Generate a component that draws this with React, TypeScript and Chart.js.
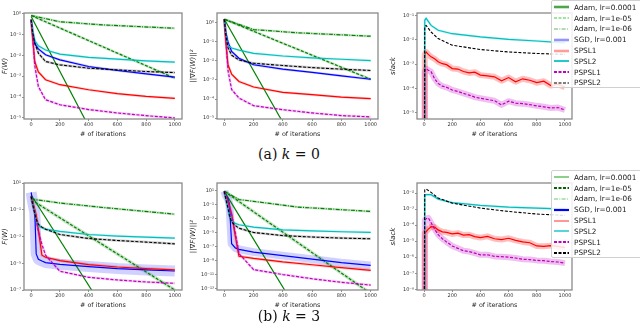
import React, { useEffect, useRef } from "react";
import { Chart, registerables } from "chart.js";
Chart.register(...registerables);

// ---------- tick values ----------
const ITER_TICKS = [0, 200, 400, 600, 800, 1000];
const K0_F_TICKS = [0, -1, -2, -3, -4, -5];
const K0_G_TICKS = [0, -1, -2, -3, -4, -5];
const K0_S_TICKS = [-1, -2, -3, -4, -5];
const K3_F_TICKS = [1, -1, -3, -5, -7];
const K3_G_TICKS = [1, -1, -3, -5, -7, -9, -11, -13];
const K3_S_TICKS = [-2, -3, -4, -5, -6, -7, -8];

// ---------- iteration grids ----------
const XS_K0 = [0, 10, 25, 50, 100, 200, 400, 600, 800, 1000];
const XS_K3 = [0, 10, 25, 35, 50, 75, 100, 200, 400, 600, 800, 1000];
const XS_SLACK = [0, 5, 15, 50, 100, 200, 400, 600, 800, 1000];
const XS_NOISY = [0, 5, 15, 30, 50, 75, 100, 130, 160, 200, 240, 280, 320, 360, 400, 450, 500, 550, 600, 650, 700, 750, 800, 850, 900, 950, 1000];
const XS_ADAM6 = [0, 200, 500, 1000];
const XS_ADAM_LIN = [0, 1000];

// ---------- k = 0 : F(W)  (log10 values) ----------
const K0_F_ADAM4_X = [0, 400];
const K0_F_ADAM4 = [-0.15, -5.4];
const K0_F_ADAM5 = [-0.1, -3.1];
const K0_F_ADAM6 = [-0.1, -0.4, -0.55, -0.71];
const K0_F_SGD = [-0.3, -0.9, -1.45, -1.7, -1.98, -2.22, -2.54, -2.73, -2.89, -3.05];
const K0_F_SPSL1 = [-0.3, -1.2, -2.3, -2.8, -3.17, -3.41, -3.65, -3.84, -3.97, -4.06];
const K0_F_SPSL2 = [-0.3, -0.8, -1.3, -1.55, -1.75, -1.95, -2.1, -2.19, -2.27, -2.33];
const K0_F_PSPSL1 = [-0.3, -1.0, -2.5, -3.5, -4.13, -4.37, -4.6, -4.76, -4.89, -5.0];
const K0_F_PSPSL2 = [-0.3, -0.9, -1.4, -1.9, -2.3, -2.46, -2.62, -2.7, -2.78, -2.83];

// ---------- k = 0 : ||grad F||^2 ----------
const K0_G_ADAM4_X = [0, 420];
const K0_G_ADAM4 = [0.19, -5.5];
const K0_G_ADAM5 = [0.19, -2.96];
const K0_G_ADAM6 = [0.19, -0.35, -0.52, -0.7];
const K0_G_SGD = [0.19, -0.5, -1.0, -1.5, -1.86, -2.2, -2.43, -2.6, -2.78, -2.96];
const K0_G_SPSL1 = [0.19, -1.0, -2.2, -2.7, -3.08, -3.37, -3.65, -3.77, -3.9, -3.98];
const K0_G_SPSL2 = [0.19, -0.6, -1.2, -1.32, -1.43, -1.6, -1.74, -1.84, -1.91, -1.98];
const K0_G_PSPSL1 = [0.19, -0.8, -2.5, -3.5, -3.95, -4.35, -4.56, -4.73, -4.87, -4.94];
const K0_G_PSPSL2 = [0.19, -0.6, -1.3, -1.7, -1.95, -2.12, -2.24, -2.35, -2.43, -2.5];

// ---------- k = 0 : slack ----------
const K0_S_SPSL2 = [-12, -1.2, -1.12, -1.41, -1.61, -1.75, -1.88, -1.98, -2.05, -2.13];
const K0_S_PSPSL2 = [-12, -1.45, -1.41, -1.68, -1.95, -2.22, -2.4, -2.5, -2.56, -2.6];
const K0_S_SPSL1 = [-12, -2.6, -2.5, -2.6, -2.7, -2.78, -2.9, -2.98, -3.02, -3.18, -3.2, -3.3, -3.36, -3.33, -3.45, -3.48, -3.52, -3.68, -3.55, -3.72, -3.6, -3.66, -3.76, -3.7, -3.88, -3.82, -3.95];
const K0_S_PSPSL1 = [-12, -3.3, -3.18, -3.25, -3.31, -3.6, -3.79, -3.9, -3.95, -4.06, -4.12, -4.2, -4.27, -4.35, -4.4, -4.45, -4.5, -4.67, -4.52, -4.6, -4.62, -4.66, -4.71, -4.75, -4.8, -4.78, -4.88];

// ---------- k = 3 : F(W) ----------
const K3_F_ADAM4_X = [0, 480];
const K3_F_ADAM4 = [0.1, -8.0];
const K3_F_ADAM5 = [-0.25, -7.0];
const K3_F_ADAM6 = [-0.2, -0.5, -0.83, -1.33];
const K3_F_SGD = [0.3, -0.4, -1.2, -4.3, -4.7, -4.83, -4.95, -5.08, -5.25, -5.4, -5.5, -5.58];
const K3_F_SPSL1 = [0.0, -0.4, -1.0, -1.4, -2.5, -4.4, -4.55, -4.8, -5.1, -5.28, -5.4, -5.5];
const K3_F_SPSL2 = [0.0, -0.5, -1.2, -1.8, -2.2, -2.35, -2.45, -2.62, -2.85, -2.97, -3.05, -3.12];
const K3_F_PSPSL1 = [0.0, -0.5, -1.2, -1.8, -2.6, -3.6, -4.4, -5.6, -6.05, -6.25, -6.4, -6.5];
const K3_F_PSPSL2 = [0.0, -0.6, -1.3, -1.7, -2.1, -2.3, -2.45, -2.85, -3.15, -3.3, -3.42, -3.55];

// ---------- k = 3 : ||grad F||^2 ----------
const K3_G_ADAM4_X = [0, 450];
const K3_G_ADAM4 = [0.86, -14.5];
const K3_G_ADAM5 = [0.86, -13.7];
const K3_G_ADAM6_X = [0, 100, 200, 500, 1000];
const K3_G_ADAM6 = [0.86, -0.3, -0.57, -1.38, -2.0];
const K3_G_SGD = [0.9, 0.3, -0.2, -1.0, -6.6, -7.2, -7.4, -7.8, -8.3, -8.8, -9.3, -9.7];
const K3_G_SPSL1 = [0.86, 0.2, -0.5, -1.2, -2.4, -5.5, -8.4, -8.7, -9.2, -9.6, -10.0, -10.4];
const K3_G_SPSL2 = [0.86, 0.0, -1.5, -2.5, -3.4, -3.7, -3.9, -4.24, -4.62, -4.76, -4.9, -5.0];
const K3_G_PSPSL1 = [0.86, 0.2, -0.6, -1.3, -2.5, -5.0, -8.0, -10.3, -11.0, -11.6, -12.1, -12.5];
const K3_G_PSPSL2 = [0.86, -0.2, -1.5, -2.6, -3.5, -4.0, -4.4, -5.0, -5.45, -5.65, -5.8, -5.9];

// ---------- k = 3 : slack ----------
const K3_S_PSPSL2 = [-12, -1.8, -1.75, -1.96, -2.31, -2.63, -2.94, -3.15, -3.31, -3.4];
const K3_S_SPSL2 = [-12, -2.12, -2.1, -2.1, -2.38, -2.6, -2.77, -2.88, -2.94, -3.0];
const K3_S_SPSL1 = [-12, -4.5, -4.4, -4.25, -4.1, -4.12, -4.3, -4.42, -4.45, -4.55, -4.5, -4.62, -4.6, -4.72, -4.78, -4.7, -4.85, -4.9, -4.82, -4.95, -5.05, -5.1, -5.3, -5.32, -5.28, -5.33, -5.4];
const K3_S_PSPSL1 = [-12, -3.7, -3.6, -3.55, -3.85, -4.25, -4.6, -4.85, -5.05, -5.3, -5.45, -5.6, -5.65, -5.75, -5.85, -5.85, -5.95, -5.97, -6.0, -6.05, -6.13, -6.15, -6.2, -6.22, -6.27, -6.3, -6.37];

// ---------- legend labels ----------
const SERIES_LABELS = ["Adam, lr=0.0001", "Adam, lr=1e-05", "Adam, lr=1e-06", "SGD, lr=0.001", "SPSL1", "SPSL2", "PSPSL1", "PSPSL2"];

// ---------- styles ----------
type Key = "adam4" | "adam5" | "adam6" | "sgd" | "spsl1" | "spsl2" | "pspsl1" | "pspsl2";
const DASH = [3, 1.6];
const DASHDOT = [4, 1.3, 1, 1.3];
const STYLE: Record<Key, { rgb: number[]; width: number; dash: number[] }> = {
  adam4: { rgb: [0, 128, 0], width: 1.2, dash: [] },
  adam5: { rgb: [0, 128, 0], width: 1.2, dash: DASH },
  adam6: { rgb: [0, 128, 0], width: 1.2, dash: DASHDOT },
  sgd: { rgb: [0, 0, 255], width: 1.2, dash: [] },
  spsl1: { rgb: [255, 0, 0], width: 1.2, dash: [] },
  spsl2: { rgb: [0, 191, 191], width: 1.2, dash: [] },
  pspsl1: { rgb: [191, 0, 191], width: 1.2, dash: DASH },
  pspsl2: { rgb: [0, 0, 0], width: 1.1, dash: DASH },
};
const rgba = (c: number[], a: number) => `rgba(${c[0]},${c[1]},${c[2]},${a})`;

const SUPS: Record<string, string> = { "0": "⁰", "1": "¹", "2": "²", "3": "³", "4": "⁴", "5": "⁵", "6": "⁶", "7": "⁷", "8": "⁸", "9": "⁹", "-": "⁻" };
const sup = (n: number) => String(n).split("").map((c) => SUPS[c] || c).join("");

const FONT = "'DejaVu Sans', sans-serif";
const PAD_TOP = 13;
const PAD_RIGHT = 6;
const X_AXIS_H = 21;

type S = { key: Key; xs: number[]; ys: number[]; halo?: number; haloA?: number };
type PanelDef = {
  id: string; L: number; T: number; R: number; B: number; canvasLeft: number;
  yMin: number; yMax: number; yTicks: number[]; yTitle: string; series: S[];
};

const framePlugin = {
  id: "frame",
  afterDraw(chart: any) {
    const { ctx, chartArea: a } = chart;
    ctx.save();
    ctx.strokeStyle = "#8a8a8a";
    ctx.lineWidth = 1.3;
    ctx.strokeRect(a.left, a.top, a.right - a.left, a.bottom - a.top);
    ctx.restore();
  },
};

function Panel(p: PanelDef) {
  const ref = useRef<HTMLCanvasElement>(null);
  const top = p.T - PAD_TOP;
  const width = p.R + PAD_RIGHT - p.canvasLeft;
  const height = p.B + X_AXIS_H - top;
  const yAxisW = p.L - p.canvasLeft;
  useEffect(() => {
    const datasets: any[] = [];
    p.series.forEach((s, i) => {
      const st = STYLE[s.key];
      const data = s.xs.map((x, j) => ({ x, y: Math.pow(10, s.ys[j]) }));
      datasets.push({
        data, borderColor: rgba(st.rgb, 1), borderWidth: st.width, borderDash: st.dash,
        order: 10 - i, pointRadius: 0, fill: false, tension: 0,
      });
      if (s.halo) {
        datasets.push({
          data, borderColor: rgba(st.rgb, s.haloA ?? 0.2), borderWidth: s.halo,
          order: 30, pointRadius: 0, fill: false, tension: 0, borderJoinStyle: "round",
        });
      }
    });
    const chart = new Chart(ref.current!, {
      type: "line",
      data: { datasets },
      options: {
        animation: false,
        responsive: false,
        maintainAspectRatio: false,
        layout: { padding: { top: PAD_TOP, right: PAD_RIGHT, left: 0, bottom: 0 } },
        plugins: { legend: { display: false }, tooltip: { enabled: false } },
        scales: {
          x: {
            type: "linear", min: -50, max: 1050,
            afterBuildTicks: (s: any) => { s.ticks = ITER_TICKS.map((v) => ({ value: v })); },
            afterFit: (s: any) => { s.height = X_AXIS_H; },
            ticks: {
              font: { size: 5, family: FONT }, color: "#333", padding: 1, maxRotation: 0, autoSkip: false,
              callback: (v: any) => String(v),
            },
            grid: { drawOnChartArea: false, drawTicks: true, tickLength: 2, color: "#444", lineWidth: 0.6 },
            border: { display: false },
            title: { display: true, text: "# of iterations", font: { size: 6.4, family: FONT }, color: "#222", padding: { top: 0, bottom: 2 } },
          },
          y: {
            type: "logarithmic", min: Math.pow(10, p.yMin), max: Math.pow(10, p.yMax),
            afterBuildTicks: (s: any) => { s.ticks = p.yTicks.map((e) => ({ value: Math.pow(10, e) })); },
            afterFit: (s: any) => { s.width = yAxisW; },
            ticks: {
              font: { size: 5, family: FONT }, color: "#333", padding: 1, autoSkip: false,
              callback: (v: any) => "10" + sup(Math.round(Math.log10(Number(v)))),
            },
            grid: { drawOnChartArea: false, drawTicks: true, tickLength: 2, color: "#444", lineWidth: 0.6 },
            border: { display: false },
            title: { display: true, text: p.yTitle, font: { size: 7, family: FONT, style: "italic" }, color: "#222", padding: { top: 1, bottom: 0 } },
          },
        },
      } as any,
      plugins: [framePlugin],
    });
    return () => chart.destroy();
  }, []);
  return (
    <canvas ref={ref} width={width} height={height}
      style={{ position: "absolute", left: p.canvasLeft, top, width, height }} />
  );
}

const COLS = [
  { L: 24, R: 182, canvasLeft: 0 },
  { L: 217, R: 378, canvasLeft: 188 },
  { L: 417, R: 572, canvasLeft: 388 },
];
const ROWS = [{ T: 13, B: 119 }, { T: 183, B: 290 }];

const PANELS: PanelDef[] = [
  {
    id: "k0f", ...COLS[0], ...ROWS[0], yMin: -5.05, yMax: 0.02, yTicks: K0_F_TICKS, yTitle: "F(W)",
    series: [
      { key: "adam4", xs: K0_F_ADAM4_X, ys: K0_F_ADAM4 },
      { key: "adam5", xs: XS_ADAM_LIN, ys: K0_F_ADAM5, halo: 2.5 },
      { key: "adam6", xs: XS_ADAM6, ys: K0_F_ADAM6, halo: 2.5 },
      { key: "sgd", xs: XS_K0, ys: K0_F_SGD, halo: 2.5 },
      { key: "spsl1", xs: XS_K0, ys: K0_F_SPSL1, halo: 2.5 },
      { key: "spsl2", xs: XS_K0, ys: K0_F_SPSL2, halo: 2.5 },
      { key: "pspsl1", xs: XS_K0, ys: K0_F_PSPSL1, halo: 2.5 },
      { key: "pspsl2", xs: XS_K0, ys: K0_F_PSPSL2, halo: 2.5 },
    ],
  },
  {
    id: "k0g", ...COLS[1], ...ROWS[0], yMin: -5.05, yMax: 0.52, yTicks: K0_G_TICKS, yTitle: "||∇F(W)||²",
    series: [
      { key: "adam4", xs: K0_G_ADAM4_X, ys: K0_G_ADAM4 },
      { key: "adam5", xs: XS_ADAM_LIN, ys: K0_G_ADAM5, halo: 2.5 },
      { key: "adam6", xs: XS_ADAM6, ys: K0_G_ADAM6, halo: 2.5 },
      { key: "sgd", xs: XS_K0, ys: K0_G_SGD, halo: 2.5 },
      { key: "spsl1", xs: XS_K0, ys: K0_G_SPSL1, halo: 2.5 },
      { key: "spsl2", xs: XS_K0, ys: K0_G_SPSL2, halo: 2.5 },
      { key: "pspsl1", xs: XS_K0, ys: K0_G_PSPSL1, halo: 2.5 },
      { key: "pspsl2", xs: XS_K0, ys: K0_G_PSPSL2, halo: 2.5 },
    ],
  },
  {
    id: "k0s", ...COLS[2], ...ROWS[0], yMin: -5.25, yMax: -0.9, yTicks: K0_S_TICKS, yTitle: "slack",
    series: [
      { key: "spsl1", xs: XS_NOISY, ys: K0_S_SPSL1, halo: 6, haloA: 0.25 },
      { key: "spsl2", xs: XS_SLACK, ys: K0_S_SPSL2, halo: 2.5 },
      { key: "pspsl1", xs: XS_NOISY, ys: K0_S_PSPSL1, halo: 6, haloA: 0.25 },
      { key: "pspsl2", xs: XS_SLACK, ys: K0_S_PSPSL2 },
    ],
  },
  {
    id: "k3f", ...COLS[0], ...ROWS[1], yMin: -7, yMax: 1, yTicks: K3_F_TICKS, yTitle: "F(W)",
    series: [
      { key: "adam4", xs: K3_F_ADAM4_X, ys: K3_F_ADAM4 },
      { key: "adam5", xs: XS_ADAM_LIN, ys: K3_F_ADAM5, halo: 3.5, haloA: 0.2 },
      { key: "adam6", xs: XS_ADAM6, ys: K3_F_ADAM6, halo: 2.5 },
      { key: "sgd", xs: XS_K3, ys: K3_F_SGD, halo: 11, haloA: 0.18 },
      { key: "spsl1", xs: XS_K3, ys: K3_F_SPSL1, halo: 3 },
      { key: "spsl2", xs: XS_K3, ys: K3_F_SPSL2, halo: 2.5 },
      { key: "pspsl1", xs: XS_K3, ys: K3_F_PSPSL1, halo: 2.5 },
      { key: "pspsl2", xs: XS_K3, ys: K3_F_PSPSL2, halo: 2.5 },
    ],
  },
  {
    id: "k3g", ...COLS[1], ...ROWS[1], yMin: -13.2, yMax: 2.05, yTicks: K3_G_TICKS, yTitle: "||∇F(W)||²",
    series: [
      { key: "adam4", xs: K3_G_ADAM4_X, ys: K3_G_ADAM4 },
      { key: "adam5", xs: XS_ADAM_LIN, ys: K3_G_ADAM5, halo: 3.5, haloA: 0.2 },
      { key: "adam6", xs: K3_G_ADAM6_X, ys: K3_G_ADAM6, halo: 2.5 },
      { key: "sgd", xs: XS_K3, ys: K3_G_SGD, halo: 8, haloA: 0.18 },
      { key: "spsl1", xs: XS_K3, ys: K3_G_SPSL1, halo: 3 },
      { key: "spsl2", xs: XS_K3, ys: K3_G_SPSL2, halo: 2.5 },
      { key: "pspsl1", xs: XS_K3, ys: K3_G_PSPSL1, halo: 2.5 },
      { key: "pspsl2", xs: XS_K3, ys: K3_G_PSPSL2, halo: 2.5 },
    ],
  },
  {
    id: "k3s", ...COLS[2], ...ROWS[1], yMin: -8.04, yMax: -1.375, yTicks: K3_S_TICKS, yTitle: "slack",
    series: [
      { key: "spsl1", xs: XS_NOISY, ys: K3_S_SPSL1, halo: 6, haloA: 0.25 },
      { key: "spsl2", xs: XS_SLACK, ys: K3_S_SPSL2, halo: 2.5 },
      { key: "pspsl1", xs: XS_NOISY, ys: K3_S_PSPSL1, halo: 6, haloA: 0.25 },
      { key: "pspsl2", xs: XS_SLACK, ys: K3_S_PSPSL2 },
    ],
  },
];

type LegendItem = { color: string; width: number; dash?: string };
const LEGEND_K0: LegendItem[] = [
  { color: "rgba(0,128,0,0.7)", width: 2.6 },
  { color: "rgba(40,200,40,0.6)", width: 1.6, dash: "3 1.5" },
  { color: "rgba(0,128,0,0.6)", width: 1, dash: "4 1.3 1 1.3" },
  { color: "rgba(60,60,255,0.55)", width: 2.6 },
  { color: "rgba(255,60,60,0.5)", width: 2.6 },
  { color: "rgba(0,191,191,0.85)", width: 2 },
  { color: "#bf00bf", width: 2, dash: "3 1.5" },
  { color: "#000", width: 1, dash: "3 1.5" },
];
const LEGEND_K3: LegendItem[] = [
  { color: "rgba(0,150,0,0.9)", width: 1 },
  { color: "#006400", width: 2, dash: "3 1.5" },
  { color: "rgba(40,180,40,0.7)", width: 1, dash: "4 1.3 1 1.3" },
  { color: "#0000ff", width: 2.2 },
  { color: "#ff3030", width: 1 },
  { color: "#00bfbf", width: 1.3 },
  { color: "#bf00bf", width: 2.2, dash: "3 1.5" },
  { color: "#000", width: 2.2, dash: "3 1.5" },
];

function Legend({ top, items }: { top: number; items: LegendItem[] }) {
  return (
    <div style={{
      position: "absolute", left: 551, top, width: 100, height: 88, boxSizing: "border-box",
      border: "1px solid #d0d0d0", borderRadius: 2, background: "rgba(255,255,255,0.85)",
    }}>
      {items.map((it, i) => (
        <div key={i} style={{ position: "absolute", left: 0, top: 1 + i * 10.8, height: 10.8, width: 100, display: "flex", alignItems: "center" }}>
          <svg width={18} height={8} style={{ marginLeft: 1, flex: "none" }}>
            <line x1={1} y1={4} x2={16} y2={4} stroke={it.color} strokeWidth={it.width} strokeDasharray={it.dash || undefined} />
          </svg>
          <span style={{ marginLeft: 3, font: `7.3px ${FONT}`, color: "#222", whiteSpace: "nowrap" }}>{SERIES_LABELS[i]}</span>
        </div>
      ))}
    </div>
  );
}

function Caption({ top, tag, k }: { top: number; tag: string; k: string }) {
  return (
    <div style={{
      position: "absolute", left: 189, width: 200, top: top - 9, height: 18, lineHeight: "18px",
      textAlign: "center", font: "14px 'DejaVu Serif', serif", color: "#111", whiteSpace: "pre",
    }}>
      {tag + " "}<i>k</i>{" = " + k}
    </div>
  );
}

export default function App() {
  return (
    <div style={{ position: "absolute", left: 0, top: 0, width: 640, height: 334, background: "#fff", overflow: "hidden" }}>
      {PANELS.map((p) => <Panel key={p.id} {...p} />)}
      <Legend top={0} items={LEGEND_K0} />
      <Legend top={170} items={LEGEND_K3} />
      <Caption top={155} tag="(a)" k="0" />
      <Caption top={317} tag="(b)" k="3" />
    </div>
  );
}
